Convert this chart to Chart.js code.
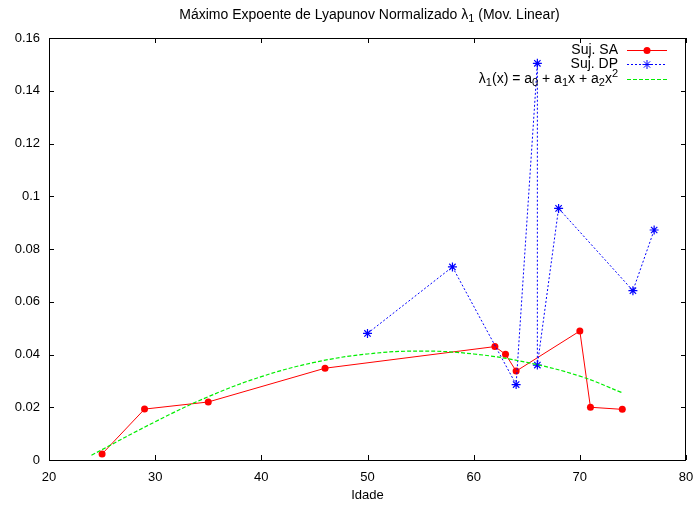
<!DOCTYPE html>
<html>
<head>
<meta charset="utf-8">
<script src="https://cdn.jsdelivr.net/npm/chart.js@4/dist/chart.umd.min.js"></script>
<style>
  body { margin: 0; background: #fff; }
  canvas { display: block; }
</style>
</head>
<body>
<canvas id="lyapChart" width="694" height="506"></canvas>
<script>
// Suj. SA
const saAges = [25, 29, 35, 46, 62, 63, 64, 70, 71, 74];
const saValues = [0.0023, 0.0193, 0.0220, 0.0348, 0.0430, 0.0401, 0.0337, 0.0489, 0.0200, 0.0192];

// Suj. DP
const dpAges = [50, 58, 64, 66, 66, 68, 75, 77];
const dpValues = [0.0480, 0.0732, 0.0286, 0.1504, 0.0360, 0.0954, 0.0642, 0.0872];

// ajuste quadratico
const fitAges = [24, 30, 35, 40, 45, 50, 55, 60, 65, 70, 74];
const fitValues = [0.0018, 0.0145, 0.0240, 0.0316, 0.0370, 0.0402, 0.0413, 0.0402, 0.0370, 0.0318, 0.0255];

const xRange = [20, 80];
const xStep = 10;
const yRange = [0, 0.16];
const yStep = 0.02;

const FONT = '"Liberation Sans", Arial, Helvetica, sans-serif';

function toPoints(xs, ys) {
    return xs.map((x, i) => ({ x: x, y: ys[i] }));
}

// pieces: [text, 'n' | 'sub' | 'sup']
function drawRich(ctx, pieces, x, y, size, align) {
    const small = Math.round(size * 0.78);
    let total = 0;
    pieces.forEach(p => {
        ctx.font = (p[1] === 'n' ? size : small) + 'px ' + FONT;
        total += ctx.measureText(p[0]).width;
    });
    let cx = align === 'right' ? x - total : align === 'center' ? x - total / 2 : x;
    ctx.textAlign = 'left';
    ctx.textBaseline = 'middle';
    pieces.forEach(p => {
        ctx.font = (p[1] === 'n' ? size : small) + 'px ' + FONT;
        const dy = p[1] === 'sub' ? 4 : p[1] === 'sup' ? -5 : 0;
        ctx.fillText(p[0], cx, y + dy);
        cx += ctx.measureText(p[0]).width;
    });
}

function drawMarker(ctx, style, x, y, r, color) {
    ctx.save();
    ctx.setLineDash([]);
    ctx.fillStyle = color;
    ctx.strokeStyle = color;
    ctx.lineWidth = 1;
    ctx.beginPath();
    if (style === 'circle') {
        ctx.arc(x, y, r, 0, Math.PI * 2);
        ctx.fill();
    } else if (style === 'star') {
        const d = r * Math.SQRT1_2;
        ctx.moveTo(x - r, y); ctx.lineTo(x + r, y);
        ctx.moveTo(x, y - r); ctx.lineTo(x, y + r);
        ctx.moveTo(x - d, y - d); ctx.lineTo(x + d, y + d);
        ctx.moveTo(x - d, y + d); ctx.lineTo(x + d, y - d);
        ctx.stroke();
    }
    ctx.restore();
}

const frame = {
    id: 'frame',
    beforeDatasetsDraw(chart) {
        const { ctx, chartArea: a, scales: { x, y } } = chart;
        const len = 5;
        ctx.save();
        ctx.strokeStyle = '#000';
        ctx.lineWidth = 1;
        ctx.beginPath();
        x.ticks.forEach(t => {
            const px = Math.round(x.getPixelForValue(t.value)) + 0.5;
            ctx.moveTo(px, a.bottom); ctx.lineTo(px, a.bottom - len);
            ctx.moveTo(px, a.top); ctx.lineTo(px, a.top + len);
        });
        y.ticks.forEach(t => {
            const py = Math.round(y.getPixelForValue(t.value)) + 0.5;
            ctx.moveTo(a.left, py); ctx.lineTo(a.left + len, py);
            ctx.moveTo(a.right, py); ctx.lineTo(a.right - len, py);
        });
        ctx.stroke();
        ctx.strokeRect(Math.round(a.left) + 0.5, Math.round(a.top) + 0.5,
            Math.round(a.width) - 1, Math.round(a.height));
        ctx.restore();
    },
    afterDraw(chart) {
        const { ctx, chartArea: a } = chart;
        ctx.save();
        ctx.fillStyle = '#000';
        drawRich(ctx, [['Máximo Expoente de Lyapunov Normalizado λ', 'n'], ['1', 'sub'], [' (Mov. Linear)', 'n']],
            (a.left + a.right) / 2 + 2, 15, 14, 'center');

        // key
        const keyText = [
            [['Suj. SA', 'n']],
            [['Suj. DP', 'n']],
            [['λ', 'n'], ['1', 'sub'], ['(x) = a', 'n'], ['0', 'sub'], [' + a', 'n'], ['1', 'sub'],
             ['x + a', 'n'], ['2', 'sub'], ['x', 'n'], ['2', 'sup']]
        ];
        const rows = [50, 64, 79];
        const ds = chart.data.datasets;
        keyText.forEach((pieces, i) => {
            const ty = rows[i];
            ctx.fillStyle = '#000';
            drawRich(ctx, pieces, 618, ty, 14, 'right');
            const d = ds[i];
            ctx.save();
            ctx.strokeStyle = d.borderColor;
            ctx.lineWidth = 1;
            ctx.setLineDash(d.borderDash || []);
            ctx.beginPath();
            ctx.moveTo(627, ty + 0.5);
            ctx.lineTo(667, ty + 0.5);
            ctx.stroke();
            ctx.restore();
            if (d.pointRadius > 0) drawMarker(ctx, d.pointStyle, 647, ty + 0.5, d.pointRadius, d.borderColor);
        });
        ctx.restore();
    }
};

document.addEventListener('DOMContentLoaded', () => {
    const ctx = document.getElementById('lyapChart').getContext('2d');
    Chart.defaults.font.family = FONT;
    Chart.defaults.font.size = 13;
    Chart.defaults.color = '#000';

    new Chart(ctx, {
        type: 'line',
        data: {
            datasets: [{
                label: 'Suj. SA',
                data: toPoints(saAges, saValues),
                borderColor: '#ff0000',
                backgroundColor: '#ff0000',
                borderWidth: 1,
                pointStyle: 'circle',
                pointRadius: 3.5,
                pointBorderWidth: 0,
                pointBackgroundColor: '#ff0000',
                tension: 0,
                order: 3
            }, {
                label: 'Suj. DP',
                data: toPoints(dpAges, dpValues),
                borderColor: '#0000ff',
                backgroundColor: '#0000ff',
                borderWidth: 1,
                borderDash: [2, 2],
                pointStyle: 'star',
                pointRadius: 4.5,
                pointBorderWidth: 1.2,
                pointBorderColor: '#0000ff',
                tension: 0,
                order: 2
            }, {
                label: 'ajuste',
                data: toPoints(fitAges, fitValues),
                borderColor: '#00ee00',
                borderWidth: 1.2,
                borderDash: [4, 2],
                pointRadius: 0,
                tension: 0.4,
                order: 1
            }]
        },
        options: {
            responsive: false,
            animation: false,
            layout: { padding: { top: 38, right: 8, left: 0, bottom: 0 } },
            plugins: {
                legend: { display: false },
                title: { display: false },
                tooltip: { enabled: false }
            },
            scales: {
                x: {
                    type: 'linear',
                    min: xRange[0],
                    max: xRange[1],
                    grid: { display: false, drawTicks: false },
                    border: { display: false },
                    ticks: { stepSize: xStep, padding: 10, maxRotation: 0 },
                    title: { display: true, text: 'Idade', padding: { top: 3, bottom: 3 } },
                    afterFit: s => { s.height = 46; s.paddingLeft = 0; s.paddingRight = 0; }
                },
                y: {
                    min: yRange[0],
                    max: yRange[1],
                    grid: { display: false, drawTicks: false },
                    border: { display: false },
                    ticks: {
                        stepSize: yStep,
                        padding: 9,
                        callback: v => String(+v.toFixed(2))
                    },
                    afterFit: s => { s.width = 49; s.paddingTop = 0; s.paddingBottom = 0; }
                }
            }
        },
        plugins: [frame]
    });
});
</script>
</body>
</html>
